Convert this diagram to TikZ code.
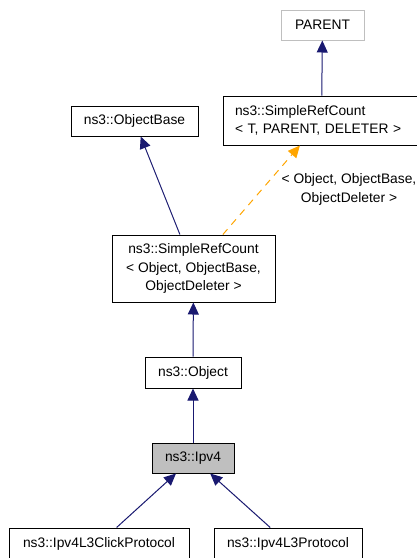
\documentclass[tikz,border=0pt]{standalone}
\usepackage{fontspec}
\setmainfont{Liberation Sans}
\usetikzlibrary{arrows.meta}
\definecolor{navy}{HTML}{191970}
\definecolor{orng}{HTML}{FFA500}
\definecolor{lgray}{HTML}{BFBFBF}
\tikzset{
  box/.style={draw=black, line width=1pt, inner sep=0pt, font=\fontsize{13.8}{18.5}\selectfont, align=center, fill=white},
  inh/.style={draw=navy, line width=1pt, -{Triangle[length=12pt,width=11pt]}},
  tmpl/.style={draw=orng, line width=1pt, dash pattern=on 7pt off 6pt, -{Triangle[length=12pt,width=11pt]}},
  lbl/.style={font=\fontsize{13.8}{18.5}\selectfont, align=center, inner sep=0pt}
}
\begin{document}
\begin{tikzpicture}[x=1pt,y=-1pt]
\useasboundingbox (0,0) rectangle (417,558);
\node[box, draw=lgray, minimum width=83pt, minimum height=30pt] (parent) at (322.5,25) {PARENT};
\node[box, align=left, minimum width=197pt, minimum height=49pt, text width=173pt] (srct) at (321.5,120.5) {ns3::SimpleRefCount\\< T, PARENT, DELETER >};
\node[box, minimum width=127pt, minimum height=30pt] (objbase) at (134.5,121) {ns3::ObjectBase};
\node[box, minimum width=163pt, minimum height=67pt] (srco) at (193.5,268.5) {ns3::SimpleRefCount\\< Object, ObjectBase,\\ObjectDeleter >};
\node[box, minimum width=96pt, minimum height=31pt] (object) at (193,372.5) {ns3::Object};
\node[box, fill=lgray, minimum width=82pt, minimum height=30pt] (ipv4) at (193,458) {ns3::Ipv4};
\node[box, minimum width=180pt, minimum height=31pt] (click) at (99,543.5) {ns3::Ipv4L3ClickProtocol};
\node[box, minimum width=148pt, minimum height=31pt] (l3) at (288,543.5) {ns3::Ipv4L3Protocol};
\node[lbl] (tlabel) at (349,189.5) {< Object, ObjectBase,\\ObjectDeleter >};
\draw[inh] (srct) -- (parent);
\draw[inh] (srco) -- (objbase);
\draw[tmpl] (srco) -- (srct);
\draw[inh] (object) -- (srco);
\draw[inh] (ipv4) -- (object);
\draw[inh] (click) -- (ipv4);
\draw[inh] (l3) -- (ipv4);
\end{tikzpicture}
\end{document}
